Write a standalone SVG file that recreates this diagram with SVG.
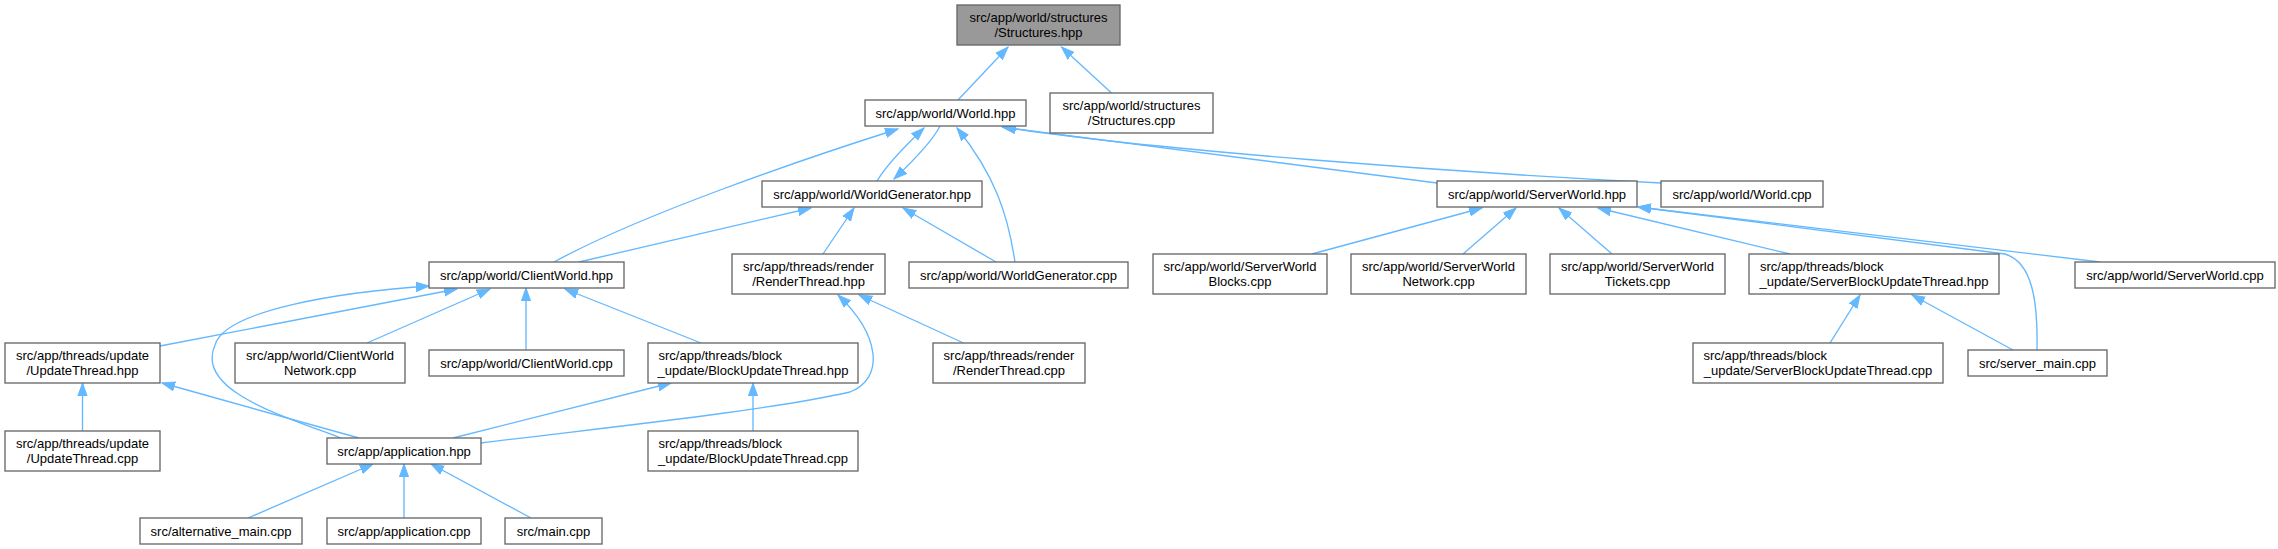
<svg xmlns="http://www.w3.org/2000/svg" width="2278" height="549" viewBox="0 0 2278 549">
<style>
.node rect{fill:#ffffff;stroke:#666666;stroke-width:1.33}
.root rect{fill:#999999}
text{font-family:"Liberation Sans",Arial,Helvetica,sans-serif;font-size:13px;fill:#000000;text-anchor:middle}
text.s{text-anchor:start}
.edges path{fill:none;stroke:#63b8ff;stroke-width:1.33;marker-end:url(#arr)}
</style>
<defs>
<marker id="arr" markerUnits="userSpaceOnUse" markerWidth="16" markerHeight="12" refX="13" refY="0" viewBox="0 -6 16 12" orient="auto">
<path d="M0,-4.6 L13,0 L0,4.6 Z" fill="#63b8ff" stroke="#63b8ff" stroke-width="1"/>
</marker>
</defs>
<rect x="0" y="0" width="2278" height="549" fill="#ffffff"/>
<g class="edges" id="edges">
<path d="M958,100 L1008,47"/>
<path d="M1111.5,93 L1061.5,47"/>
<path d="M877,181 C886,166 905,146 924,128"/>
<path d="M940,126 C932,142 912,162 894,179"/>
<path d="M554,262 C640,215 800,160 898,129"/>
<path d="M579,262 L811,208"/>
<path d="M1015,262 C1008,215 995,175 957,128"/>
<path d="M996,262 L903,208"/>
<path d="M823,254 L854,208"/>
<path d="M1437,183 L1002,127"/>
<path d="M1661,183 C1450,172 1150,150 1003,127"/>
<path d="M1312,254 L1482,208"/>
<path d="M1463,254 L1516,208"/>
<path d="M1612,254 L1559,208"/>
<path d="M1790,254 L1598,208"/>
<path d="M2037,350 C2038,300 2032,262 2005,254 L1638,207"/>
<path d="M2100,262 L1638,207"/>
<path d="M1830,343 L1860,295"/>
<path d="M2013,350 L1912,295"/>
<path d="M963.5,343 L859,295"/>
<path d="M481,443 C600,428 760,412 850,392 C885,378 880,335 838,295"/>
<path d="M160,346 L457,289"/>
<path d="M367,343 L490,289"/>
<path d="M526,350 L526,288"/>
<path d="M701,343 L565,289"/>
<path d="M341,438 C280,415 195,390 215,345 C225,310 340,292 429,286"/>
<path d="M82.5,431 L82.5,383"/>
<path d="M359,438 L162,383"/>
<path d="M453,438 L671,383"/>
<path d="M753,431 L753,383"/>
<path d="M248,518 L373,464"/>
<path d="M404,518 L404,464"/>
<path d="M531,518 L431,464"/>
</g>
<g id="n_structures_hpp" class="node root"><rect x="957" y="5" width="163" height="40"/><text x="1038.5" y="22">src/app/world/structures</text><text x="1038.5" y="36.6">/Structures.hpp</text></g>
<g id="n_world_hpp" class="node"><rect x="865" y="100" width="161" height="26"/><text x="945.5" y="117.6">src/app/world/World.hpp</text></g>
<g id="n_structures_cpp" class="node"><rect x="1050" y="93" width="163" height="40"/><text x="1131.5" y="110">src/app/world/structures</text><text x="1131.5" y="124.6">/Structures.cpp</text></g>
<g id="n_worldgenerator_hpp" class="node"><rect x="762" y="181" width="220" height="26"/><text x="872" y="198.6">src/app/world/WorldGenerator.hpp</text></g>
<g id="n_serverworld_hpp" class="node"><rect x="1437" y="181" width="200" height="26"/><text x="1537" y="198.6">src/app/world/ServerWorld.hpp</text></g>
<g id="n_world_cpp" class="node"><rect x="1661" y="181" width="162" height="26"/><text x="1742" y="198.6">src/app/world/World.cpp</text></g>
<g id="n_clientworld_hpp" class="node"><rect x="429" y="262" width="195" height="26"/><text x="526.5" y="279.6">src/app/world/ClientWorld.hpp</text></g>
<g id="n_renderthread_hpp" class="node"><rect x="732" y="254" width="153" height="40"/><text x="808.5" y="271">src/app/threads/render</text><text x="808.5" y="285.6">/RenderThread.hpp</text></g>
<g id="n_worldgenerator_cpp" class="node"><rect x="909" y="262" width="219" height="26"/><text x="1018.5" y="279.6">src/app/world/WorldGenerator.cpp</text></g>
<g id="n_serverworld_blocks" class="node"><rect x="1153" y="254" width="174" height="40"/><text x="1240" y="271">src/app/world/ServerWorld</text><text x="1240" y="285.6">Blocks.cpp</text></g>
<g id="n_serverworld_network" class="node"><rect x="1351" y="254" width="175" height="40"/><text x="1438.5" y="271">src/app/world/ServerWorld</text><text x="1438.5" y="285.6">Network.cpp</text></g>
<g id="n_serverworld_tickets" class="node"><rect x="1550" y="254" width="175" height="40"/><text x="1637.5" y="271">src/app/world/ServerWorld</text><text x="1637.5" y="285.6">Tickets.cpp</text></g>
<g id="n_serverblockupdatethread_hpp" class="node"><rect x="1749" y="254" width="250" height="40"/><text class="s" x="1760" y="271">src/app/threads/block</text><text x="1874" y="285.6">_update/ServerBlockUpdateThread.hpp</text></g>
<g id="n_serverworld_cpp" class="node"><rect x="2075" y="262" width="200" height="26"/><text x="2175" y="279.6">src/app/world/ServerWorld.cpp</text></g>
<g id="n_updatethread_hpp" class="node"><rect x="5" y="343" width="155" height="40"/><text x="82.5" y="360">src/app/threads/update</text><text x="82.5" y="374.6">/UpdateThread.hpp</text></g>
<g id="n_clientworld_network" class="node"><rect x="235" y="343" width="170" height="40"/><text x="320" y="360">src/app/world/ClientWorld</text><text x="320" y="374.6">Network.cpp</text></g>
<g id="n_clientworld_cpp" class="node"><rect x="429" y="350" width="195" height="26"/><text x="526.5" y="367.6">src/app/world/ClientWorld.cpp</text></g>
<g id="n_blockupdatethread_hpp" class="node"><rect x="648" y="343" width="210" height="40"/><text class="s" x="658.5" y="360">src/app/threads/block</text><text x="753" y="374.6">_update/BlockUpdateThread.hpp</text></g>
<g id="n_renderthread_cpp" class="node"><rect x="933" y="343" width="152" height="40"/><text x="1009" y="360">src/app/threads/render</text><text x="1009" y="374.6">/RenderThread.cpp</text></g>
<g id="n_serverblockupdatethread_cpp" class="node"><rect x="1693" y="343" width="250" height="40"/><text class="s" x="1703.5" y="360">src/app/threads/block</text><text x="1818" y="374.6">_update/ServerBlockUpdateThread.cpp</text></g>
<g id="n_server_main_cpp" class="node"><rect x="1968" y="350" width="139" height="26"/><text x="2037.5" y="367.6">src/server_main.cpp</text></g>
<g id="n_updatethread_cpp" class="node"><rect x="5" y="431" width="155" height="40"/><text x="82.5" y="448">src/app/threads/update</text><text x="82.5" y="462.6">/UpdateThread.cpp</text></g>
<g id="n_application_hpp" class="node"><rect x="327" y="438" width="154" height="26"/><text x="404" y="455.6">src/app/application.hpp</text></g>
<g id="n_blockupdatethread_cpp" class="node"><rect x="648" y="431" width="210" height="40"/><text class="s" x="658.5" y="448">src/app/threads/block</text><text x="753" y="462.6">_update/BlockUpdateThread.cpp</text></g>
<g id="n_alternative_main_cpp" class="node"><rect x="140" y="518" width="162" height="26"/><text x="221" y="535.6">src/alternative_main.cpp</text></g>
<g id="n_application_cpp" class="node"><rect x="327" y="518" width="154" height="26"/><text x="404" y="535.6">src/app/application.cpp</text></g>
<g id="n_main_cpp" class="node"><rect x="505" y="518" width="97" height="26"/><text x="553.5" y="535.6">src/main.cpp</text></g>
</svg>
